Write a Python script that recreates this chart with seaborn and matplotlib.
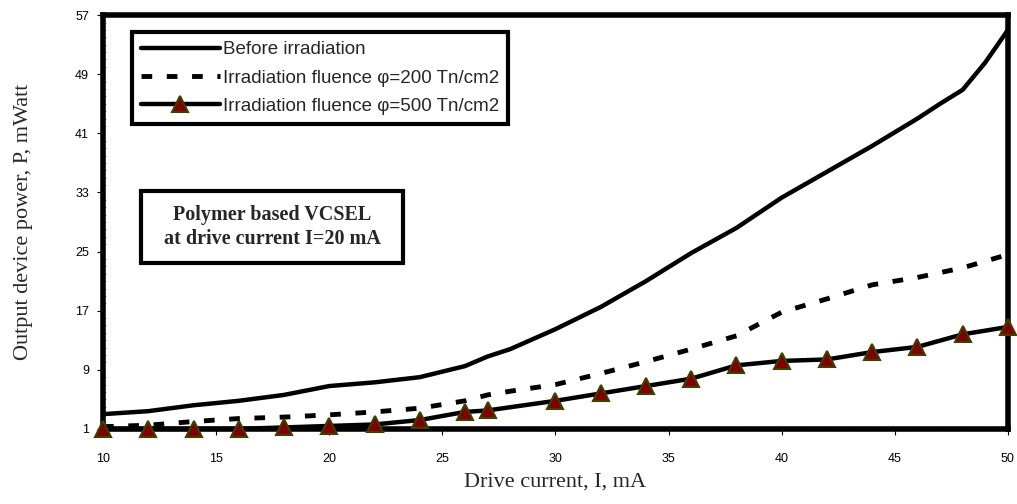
import matplotlib

matplotlib.use("Agg")

import matplotlib.pyplot as plt
import pandas as pd
import seaborn as sns
from matplotlib.patches import Rectangle
from matplotlib.ticker import MultipleLocator

# drive current (mA) and output power (mW)
before_x = [10, 12, 14, 16, 18, 20, 22, 24, 26, 27, 28, 30, 32, 34, 36, 38, 40, 42, 44, 46, 47, 48, 49, 50]
before_p = [3.0, 3.4, 4.2, 4.8, 5.6, 6.8, 7.3, 8.0, 9.5, 10.8, 11.8, 14.5, 17.5, 21.0, 24.8, 28.2, 32.3,
            35.8, 39.3, 43.0, 45.0, 46.9, 50.6, 55.0]

f200_x = [10, 12, 14, 16, 18, 20, 22, 24, 26, 27, 28, 30, 32, 34, 36, 38, 40, 42, 44, 46, 48, 50]
f200_p = [1.3, 1.5, 2.0, 2.4, 2.6, 2.9, 3.3, 3.8, 4.8, 5.6, 6.1, 7.0, 8.5, 10.1, 11.8, 13.6, 16.8,
          18.6, 20.5, 21.5, 22.8, 24.6]

f500_x = [10, 12, 14, 16, 18, 20, 22, 24, 26, 27, 30, 32, 34, 36, 38, 40, 42, 44, 46, 48, 50]
f500_p = [1.0, 1.0, 1.0, 1.0, 1.2, 1.4, 1.6, 2.2, 3.3, 3.5, 4.8, 5.8, 6.8, 7.8, 9.6, 10.2, 10.4,
          11.4, 12.1, 13.8, 14.8]

series_labels = ["Before irradiation",
                 "Irradiation fluence \u03c6=200 Tn/cm2",
                 "Irradiation fluence \u03c6=500 Tn/cm2"]

x_ticks = [10, 15, 20, 25, 30, 35, 40, 45, 50]
y_ticks = [1, 9, 17, 25, 33, 41, 49, 57]

sns.set_theme(style="white")
plt.rcParams["font.family"] = ["Liberation Sans", "DejaVu Sans"]

fig = plt.figure(figsize=(10.17, 5.04), dpi=100)
ax = fig.add_axes([0.1013, 0.149, 0.8898, 0.821])

before_df = pd.DataFrame({"current": before_x, "power": before_p})
f200_df = pd.DataFrame({"current": f200_x, "power": f200_p})
f500_df = pd.DataFrame({"current": f500_x, "power": f500_p})

sns.lineplot(data=before_df, x="current", y="power", ax=ax, color="black", lw=3.2,
             label=series_labels[0], clip_on=False)
sns.lineplot(data=f200_df, x="current", y="power", ax=ax, color="black", lw=3.5,
             linestyle=(0, (2.2, 3.0)), label=series_labels[1], clip_on=False)
sns.lineplot(data=f500_df, x="current", y="power", ax=ax, color="black", lw=3.2,
             marker="^", markersize=11, markerfacecolor="#800000", markeredgecolor="#3f3f00",
             markeredgewidth=1.5, label=series_labels[2], clip_on=False, zorder=5)

ax.set_xlim(10, 50)
ax.set_ylim(1, 57)
ax.set_xticks(x_ticks)
ax.set_yticks(y_ticks)
ax.xaxis.set_minor_locator(MultipleLocator(1))
ax.yaxis.set_minor_locator(MultipleLocator(1))
ax.tick_params(axis="both", which="major", direction="out", length=4, width=0.8,
               labelsize=9, colors="black")
ax.tick_params(axis="x", which="major", pad=13)
ax.tick_params(axis="y", which="major", pad=6)
ax.tick_params(axis="both", which="minor", direction="in", length=2.5, width=0.5, color="#666666")
ax.tick_params(bottom=True, left=True, which="both")

for spine in ax.spines.values():
    spine.set_visible(True)
    spine.set_color("black")
    spine.set_linewidth(4)

ax.set_xlabel("Drive current, I, mA", family="Liberation Serif", fontsize=16, labelpad=6)
ax.set_ylabel("Output device power, P, mWatt", family="Liberation Serif", fontsize=16, labelpad=30)

leg = ax.legend(loc="upper left", bbox_to_anchor=(0.0316, 0.9597), fontsize=13.5,
                frameon=True, fancybox=False, handlelength=4.2, handletextpad=0.15,
                labelspacing=0.6, borderpad=0.5, borderaxespad=0)
leg.get_frame().set_edgecolor("black")
leg.get_frame().set_linewidth(3)
leg.get_frame().set_alpha(1)

# annotation box
ax.add_patch(Rectangle((0.042, 0.4015), 0.29, 0.174, transform=ax.transAxes, fill=False,
                       edgecolor="black", lw=3, zorder=6))
ax.text(0.187, 0.4885, "Polymer based VCSEL\nat drive current I=20 mA", transform=ax.transAxes,
        ha="center", va="center", family="Liberation Serif", fontweight="bold", fontsize=14.5,
        linespacing=1.3, zorder=7)

fig.savefig("out.png", dpi=100)
